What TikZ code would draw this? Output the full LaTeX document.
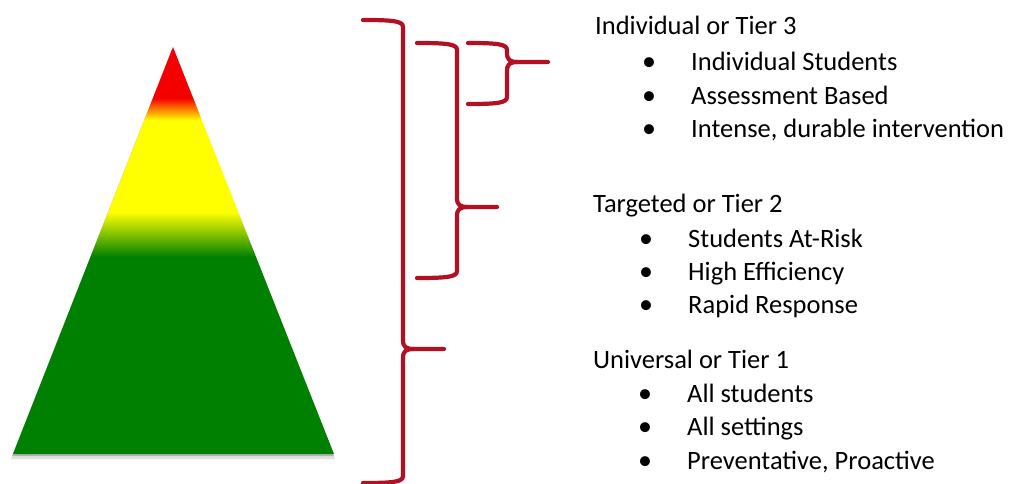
\documentclass[tikz,border=0pt]{standalone}
\usepackage{fontspec}
\setmainfont{Carlito}
\definecolor{tiergreen}{RGB}{0,128,0}
\definecolor{tieryellow}{RGB}{255,255,0}
\definecolor{tierred}{RGB}{245,0,0}
\definecolor{bracered}{RGB}{180,16,36}
\pgfdeclareverticalshading{tiershade}{100bp}{color(0bp)=(tiergreen); color(49.2bp)=(tiergreen); color(54.7bp)=(tieryellow); color(66bp)=(tieryellow); color(68.7bp)=(tierred); color(100bp)=(tierred)}
\begin{document}
\begin{tikzpicture}[x=1pt,y=-1pt,
    brace/.style={draw=bracered,line width=4.2pt,line cap=round,line join=round},
    head/.style={anchor=base west,inner sep=0pt,font=\fontsize{26.5}{32}\selectfont},
    item/.style={anchor=base west,inner sep=0pt,font=\fontsize{26.5}{32}\selectfont},
    dot/.style={anchor=base,inner sep=0pt,font=\fontsize{28}{32}\selectfont}]
\useasboundingbox (0,0) rectangle (1009,484);
% pyramid with a soft shadow
\coordinate (apex) at (173,47);
\coordinate (bl) at (13,454);
\coordinate (br) at (334,454);
\fill[black,opacity=0.12] (apex) ++(-1,3) -- ++(-161,409) -- ++(324,0) -- cycle;
\fill[black,opacity=0.2] (apex) ++(-1,2) -- ++(-160,407) -- ++(322,0) -- cycle;
\shade[shading=tiershade] (apex) -- (bl) -- (br) -- cycle;
% braces
\foreach \xl/\xv/\yt/\yp/\xt/\yb in {363/403/20/349/444/483, 417/457/43/207/497/278, 468/507/43/62/548/104}{
  \draw[brace] (\xl,\yt) .. controls (\xv-10,\yt) and (\xv,\yt+1) .. (\xv,\yt+7)
    -- (\xv,\yp-9) .. controls (\xv,\yp-2) and (\xv+3,\yp) .. (\xv+11,\yp) -- (\xt,\yp);
  \draw[brace] (\xv+11,\yp) .. controls (\xv+3,\yp) and (\xv,\yp+2) .. (\xv,\yp+9)
    -- (\xv,\yb-7) .. controls (\xv,\yb-1) and (\xv-10,\yb) .. (\xl,\yb);
}
% tier 3
\node[head] (t3) at (595,35) {Individual or Tier 3};
\node[dot] (t3da) at (649,71) {•};
\node[item] (t3a) at (691,71) {Individual Students};
\node[dot] (t3db) at (649,105) {•};
\node[item] (t3b) at (691,105) {Assessment Based};
\node[dot] (t3dc) at (649,138) {•};
\node[item] (t3c) at (691,138) {Intense, durable intervention};
% tier 2
\node[head] (t2) at (593,212) {Targeted or Tier 2};
\node[dot] (t2da) at (646,247) {•};
\node[item] (t2a) at (688,247) {Students At-Risk};
\node[dot] (t2db) at (646,280) {•};
\node[item] (t2b) at (688,280) {High Efficiency};
\node[dot] (t2dc) at (646,313) {•};
\node[item] (t2c) at (688,313) {Rapid Response};
% tier 1
\node[head] (t1) at (593,368) {Universal or Tier 1};
\node[dot] (t1da) at (645,402) {•};
\node[item] (t1a) at (687,402) {All students};
\node[dot] (t1db) at (645,435) {•};
\node[item] (t1b) at (687,435) {All settings};
\node[dot] (t1dc) at (645,469) {•};
\node[item] (t1c) at (687,469) {Preventative, Proactive};
\end{tikzpicture}
\end{document}
